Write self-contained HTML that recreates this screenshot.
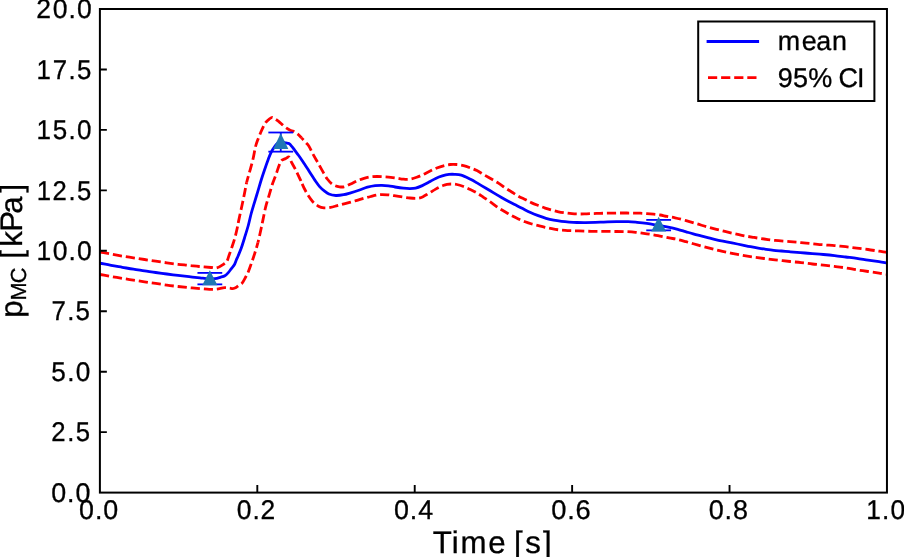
<!DOCTYPE html><html><head><meta charset="utf-8"><style>html,body{margin:0;padding:0;background:#fff;width:904px;height:557px;overflow:hidden}svg{display:block;will-change:transform}text{font-family:"Liberation Sans", sans-serif;fill:#000;stroke:#000;stroke-width:0.3px;text-rendering:geometricPrecision}</style></head><body>
<svg width="904" height="557" viewBox="0 0 904 557">
<rect width="904" height="557" fill="#fff"/>
<defs><clipPath id="ax"><rect x="99.9" y="9.0" width="787.0500000000001" height="483.6"/></clipPath></defs>
<g clip-path="url(#ax)" fill="none" stroke-linejoin="round">
<path d="M100.00,263.20 C103.70,263.93 107.39,264.72 111.10,265.40 C114.82,266.08 118.58,266.67 122.30,267.30 C126.01,267.93 129.70,268.62 133.40,269.20 C137.10,269.78 140.79,270.25 144.50,270.80 C148.23,271.35 151.97,271.97 155.70,272.50 C159.41,273.03 163.09,273.52 166.80,274.00 C170.52,274.48 174.27,274.95 178.00,275.40 C181.71,275.85 185.42,276.28 189.10,276.70 C192.75,277.11 196.54,277.54 200.00,277.90 C203.14,278.23 206.30,278.69 209.00,278.80 C211.20,278.89 213.08,278.97 215.00,278.70 C216.84,278.45 218.61,277.82 220.30,277.30 C221.90,276.81 223.55,276.50 224.90,275.70 C226.21,274.92 227.22,273.77 228.30,272.60 C229.47,271.33 230.56,269.64 231.60,268.30 C232.51,267.12 233.46,266.25 234.20,265.00 C235.02,263.62 235.53,261.86 236.20,260.30 C236.86,258.76 237.48,257.42 238.20,255.70 C239.11,253.53 240.23,250.99 241.20,248.30 C242.33,245.17 243.37,241.64 244.50,238.00 C245.76,233.92 247.26,229.22 248.40,225.00 C249.47,221.06 250.18,217.30 251.20,213.50 C252.21,209.73 253.38,206.02 254.50,202.30 C255.62,198.59 256.78,194.91 257.90,191.20 C259.02,187.48 260.07,183.62 261.20,180.00 C262.27,176.56 263.34,173.39 264.50,170.00 C265.71,166.46 267.10,162.35 268.30,159.20 C269.24,156.72 270.07,154.50 271.00,152.60 C271.75,151.07 272.43,149.94 273.30,148.60 C274.24,147.14 275.32,145.44 276.50,144.20 C277.57,143.08 278.81,141.69 280.00,141.40 C280.98,141.16 282.02,141.75 283.00,142.00 C283.96,142.25 284.84,142.64 285.80,142.90 C286.80,143.17 287.92,143.06 288.90,143.60 C290.08,144.25 291.26,145.81 292.20,146.90 C293.02,147.84 293.53,148.68 294.30,149.70 C295.23,150.94 296.36,152.40 297.40,153.80 C298.46,155.24 299.51,156.63 300.60,158.20 C301.81,159.94 303.06,161.93 304.30,163.80 C305.56,165.69 306.85,167.56 308.10,169.50 C309.38,171.49 310.69,173.69 311.90,175.60 C312.98,177.30 313.83,178.72 315.00,180.40 C316.35,182.36 317.97,184.79 319.60,186.60 C321.08,188.24 322.69,189.64 324.30,190.90 C325.80,192.08 327.12,193.24 328.90,194.00 C330.92,194.86 333.49,195.37 335.90,195.50 C338.42,195.64 341.19,195.17 343.70,194.70 C346.12,194.25 348.23,193.52 350.70,192.80 C353.50,191.98 356.74,190.96 359.60,190.00 C362.30,189.09 364.77,187.94 367.40,187.20 C369.97,186.48 372.69,185.91 375.20,185.60 C377.51,185.31 379.68,185.27 381.90,185.30 C384.11,185.33 386.32,185.52 388.50,185.80 C390.68,186.08 392.69,186.62 395.00,187.00 C397.62,187.43 400.76,187.93 403.40,188.20 C405.73,188.44 407.89,188.63 410.00,188.60 C411.94,188.57 413.68,188.54 415.60,188.10 C417.77,187.61 420.10,186.58 422.30,185.60 C424.57,184.59 426.77,183.30 429.00,182.10 C431.24,180.90 433.44,179.45 435.70,178.40 C437.87,177.39 440.07,176.57 442.30,175.90 C444.50,175.24 446.85,174.66 449.00,174.40 C450.94,174.17 452.65,174.20 454.60,174.30 C456.74,174.41 458.94,174.44 461.30,175.10 C464.18,175.91 467.60,177.83 470.50,179.30 C473.21,180.67 475.63,182.13 478.20,183.60 C480.80,185.09 483.41,186.65 486.00,188.20 C488.58,189.75 491.12,191.35 493.70,192.90 C496.29,194.45 498.90,196.01 501.50,197.50 C504.07,198.97 506.61,200.43 509.20,201.80 C511.78,203.16 514.61,204.49 517.00,205.70 C519.05,206.73 520.65,207.57 522.70,208.60 C525.09,209.81 527.88,211.32 530.50,212.50 C533.05,213.65 535.61,214.63 538.20,215.60 C540.78,216.57 543.39,217.53 546.00,218.30 C548.56,219.06 551.11,219.68 553.70,220.20 C556.28,220.72 558.90,221.08 561.50,221.40 C564.07,221.71 566.62,221.92 569.20,222.10 C571.79,222.28 574.34,222.42 577.00,222.50 C579.77,222.59 582.24,222.62 585.50,222.60 C589.90,222.57 595.83,222.37 601.00,222.20 C606.17,222.03 611.71,221.69 616.50,221.60 C620.65,221.52 624.49,221.46 628.10,221.60 C631.27,221.72 633.96,222.01 637.00,222.30 C640.19,222.60 643.43,222.93 646.80,223.40 C650.42,223.91 654.48,224.69 658.00,225.30 C661.14,225.85 663.80,226.28 666.90,226.90 C670.33,227.59 674.41,228.45 677.70,229.30 C680.52,230.03 682.91,230.83 685.50,231.60 C688.08,232.36 690.62,233.18 693.20,233.90 C695.78,234.62 698.41,235.25 701.00,235.90 C703.57,236.55 706.13,237.15 708.70,237.80 C711.29,238.45 713.90,239.21 716.50,239.80 C719.07,240.38 721.63,240.79 724.20,241.30 C726.79,241.82 729.20,242.32 732.00,242.90 C735.29,243.57 739.41,244.43 742.70,245.10 C745.50,245.68 747.91,246.20 750.50,246.70 C753.07,247.20 755.62,247.67 758.20,248.10 C760.79,248.53 763.41,248.93 766.00,249.30 C768.57,249.66 771.12,250.02 773.70,250.30 C776.29,250.58 778.91,250.77 781.50,251.00 C784.08,251.23 786.62,251.48 789.20,251.70 C791.79,251.92 794.38,252.08 797.00,252.30 C799.65,252.52 802.39,252.78 805.00,253.00 C807.49,253.21 809.61,253.38 812.30,253.60 C815.61,253.87 819.70,254.17 823.40,254.50 C827.10,254.83 830.79,255.18 834.50,255.60 C838.23,256.02 841.98,256.53 845.70,257.00 C849.41,257.47 853.09,257.89 856.80,258.40 C860.53,258.92 864.27,259.55 868.00,260.10 C871.71,260.65 875.72,261.18 879.10,261.70 C881.96,262.14 884.99,262.67 887.00,263.00 C888.24,263.20 889.00,263.33 890.00,263.50" stroke="#0000ff" stroke-width="2.8" stroke-linecap="square"/>
<path d="M100.00,252.00 C103.70,252.70 107.39,253.42 111.10,254.10 C114.82,254.78 118.57,255.48 122.30,256.10 C126.00,256.71 129.70,257.23 133.40,257.80 C137.10,258.37 140.79,258.93 144.50,259.50 C148.22,260.07 151.97,260.65 155.70,261.20 C159.41,261.75 163.09,262.28 166.80,262.80 C170.52,263.32 174.27,263.87 178.00,264.30 C181.70,264.73 185.50,265.02 189.10,265.40 C192.52,265.76 195.61,266.16 199.10,266.50 C202.92,266.87 207.89,267.25 211.10,267.50 C213.25,267.67 214.65,268.28 216.50,267.90 C218.72,267.44 221.57,265.53 223.40,264.30 C224.76,263.38 225.81,262.75 226.70,261.50 C227.78,259.97 228.18,257.74 229.00,255.50 C230.02,252.70 231.27,249.13 232.30,246.00 C233.30,242.97 234.27,240.03 235.10,237.00 C235.93,233.96 236.66,230.74 237.30,227.80 C237.88,225.13 238.20,223.01 238.80,220.10 C239.59,216.26 240.75,211.24 241.70,206.80 C242.65,202.34 243.63,197.66 244.50,193.40 C245.29,189.53 245.85,185.90 246.70,182.30" stroke="#ff0000" stroke-width="2.8" stroke-dasharray="9.2 3.9" stroke-dashoffset="0.00"/>
<path d="M246.70,182.30 C247.52,178.84 248.53,175.76 249.50,172.20 C250.59,168.21 251.88,163.81 252.90,159.50 C253.95,155.08 254.74,149.58 255.70,146.00 C256.35,143.58 256.96,142.03 257.70,140.00 C258.48,137.87 259.41,135.63 260.30,133.50 C261.18,131.40 262.06,129.20 263.00,127.30 C263.84,125.60 264.56,123.96 265.60,122.60 C266.58,121.32 267.82,120.21 269.00,119.30 C270.06,118.48 271.20,117.30 272.30,117.30 C273.40,117.30 274.51,118.59 275.60,119.30 C276.71,120.02 277.83,120.74 278.90,121.60 C280.03,122.50 281.03,123.59 282.20,124.60 C283.46,125.69 284.83,126.93 286.20,127.90 C287.50,128.82 288.90,129.72 290.20,130.30 C291.32,130.80 292.38,130.78 293.50,131.30 C294.81,131.91 296.22,132.86 297.50,133.90 C298.90,135.03 300.18,136.53 301.50,137.90" stroke="#ff0000" stroke-width="2.8" stroke-dasharray="9.2 3.9" stroke-dashoffset="212.42"/>
<path d="M301.50,137.90 C302.85,139.30 304.24,140.80 305.50,142.20 C306.66,143.50 307.71,144.39 308.80,146.00 C310.34,148.28 311.85,152.06 313.40,154.90 C314.86,157.58 316.33,160.01 317.80,162.60 C319.30,165.24 320.74,167.91 322.30,170.60 C323.91,173.38 325.42,176.58 327.30,179.00 C328.99,181.18 330.79,183.29 332.90,184.60 C334.88,185.82 337.49,186.47 339.50,186.80 C341.12,187.06 342.39,187.12 344.00,186.80 C346.05,186.39 348.48,185.01 350.70,184.00 C352.95,182.98 355.15,181.64 357.40,180.70 C359.58,179.79 361.78,179.05 364.00,178.40 C366.21,177.75 368.45,177.12 370.70,176.80 C372.92,176.49 375.17,176.50 377.40,176.50 C379.63,176.50 381.87,176.67 384.10,176.80 C386.33,176.93 388.64,177.07 390.80,177.30 C392.83,177.51 394.67,177.80 396.70,178.10 C398.86,178.42 401.17,179.02 403.40,179.20 C405.60,179.38 407.81,179.50 410.00,179.20 C412.25,178.89 414.49,178.09 416.70,177.30 C418.96,176.49 421.18,175.44 423.40,174.40 C425.65,173.34 427.85,172.07 430.10,171.00 C432.32,169.94 434.54,168.87 436.80,168.00 C439.01,167.14 441.26,166.39 443.50,165.80 C445.69,165.23 447.88,164.72 450.10,164.50 C452.31,164.28 454.57,164.32 456.80,164.50 C459.04,164.68 461.29,165.06 463.50,165.60 C465.75,166.15 467.98,166.97 470.20,167.80 C472.45,168.64 474.71,169.50 476.90,170.60 C479.15,171.73 481.23,173.18 483.50,174.50 C485.92,175.91 488.51,177.36 491.00,178.80 C493.48,180.23 496.04,181.58 498.40,183.10 C500.70,184.58 502.77,186.31 505.00,187.80 C507.20,189.27 509.47,190.60 511.70,192.00 C513.93,193.40 516.13,194.94 518.40,196.20 C520.60,197.43 522.87,198.39 525.10,199.50 C527.34,200.62 529.54,201.88 531.80,202.90 C534.01,203.90 536.27,204.73 538.50,205.60 C540.70,206.46 542.88,207.35 545.10,208.10 C547.31,208.85 549.56,209.48 551.80,210.10 C554.03,210.71 556.26,211.33 558.50,211.80 C560.72,212.26 562.96,212.58 565.20,212.90 C567.43,213.22 569.67,213.52 571.90,213.70 C574.10,213.88 576.18,213.98 578.50,214.00 C581.08,214.03 584.10,213.87 586.70,213.80 C589.05,213.74 591.18,213.68 593.40,213.60 C595.61,213.52 597.79,213.37 600.00,213.30 C602.22,213.23 604.47,213.23 606.70,213.20 C608.93,213.17 611.17,213.13 613.40,213.10 C615.63,213.07 617.87,213.02 620.10,213.00 C622.33,212.98 624.57,212.98 626.80,213.00 C629.03,213.02 631.28,213.07 633.50,213.10 C635.71,213.13 637.89,213.12 640.10,213.20 C642.33,213.28 644.57,213.43 646.80,213.60 C649.03,213.77 651.27,213.97 653.50,214.20 C655.74,214.43 657.97,214.64 660.20,215.00 C662.44,215.37 664.56,215.95 666.90,216.40 C669.47,216.89 672.10,217.18 675.00,217.80 C678.42,218.53 682.40,219.59 686.10,220.60 C689.84,221.62 693.58,222.78 697.30,223.90 C701.01,225.02 704.69,226.26 708.40,227.30 C712.09,228.33 715.79,229.18 719.50,230.10 C723.22,231.02 726.97,231.93 730.70,232.80 C734.41,233.66 738.08,234.55 741.80,235.30 C745.52,236.05 749.27,236.68 753.00,237.30 C756.70,237.91 760.41,238.48 764.10,239.00 C767.75,239.51 771.07,239.98 775.00,240.40 C779.60,240.89 785.38,241.31 790.00,241.70 C793.98,242.03 797.39,242.27 801.10,242.60 C804.83,242.93 808.58,243.33 812.30,243.70 C816.01,244.07 819.70,244.48 823.40,244.80 C827.10,245.12 830.79,245.28 834.50,245.60 C838.23,245.92 841.98,246.28 845.70,246.70 C849.41,247.12 853.09,247.63 856.80,248.10 C860.52,248.57 864.28,248.98 868.00,249.50 C871.71,250.02 875.71,250.70 879.10,251.20 C881.96,251.62 884.99,251.99 887.00,252.30 C888.24,252.49 889.00,252.63 890.00,252.80" stroke="#ff0000" stroke-width="2.8" stroke-dasharray="9.2 3.9" stroke-dashoffset="320.65"/>
<path d="M100.00,274.50 C103.70,275.17 107.39,275.85 111.10,276.50 C114.82,277.15 118.57,277.80 122.30,278.40 C126.01,279.00 129.70,279.53 133.40,280.10 C137.10,280.67 140.79,281.25 144.50,281.80 C148.22,282.35 151.98,282.85 155.70,283.40 C159.41,283.95 163.09,284.58 166.80,285.10 C170.52,285.62 174.27,286.07 178.00,286.50 C181.71,286.93 185.41,287.35 189.10,287.70 C192.75,288.05 196.50,288.31 200.00,288.60 C203.25,288.87 206.46,289.32 209.40,289.40 C211.98,289.47 214.22,289.46 216.70,289.20 C219.32,288.92 222.33,287.80 224.70,287.70 C226.58,287.62 228.34,288.03 229.80,288.20 C230.90,288.33 231.71,288.69 232.70,288.60 C233.78,288.50 235.03,288.03 236.00,287.50 C236.91,287.01 237.52,286.19 238.40,285.60 C239.37,284.95 240.58,284.79 241.60,283.80 C243.11,282.33 244.66,278.82 245.80,276.80 C246.65,275.29 247.18,274.42 247.90,272.80 C248.95,270.45 250.11,266.97 251.20,263.90 C252.35,260.65 253.50,257.26 254.60,253.80 C255.74,250.20 256.86,246.66 257.90,242.70" stroke="#ff0000" stroke-width="2.8" stroke-dasharray="9.2 3.9" stroke-dashoffset="0.00"/>
<path d="M257.90,242.70 C259.08,238.21 260.29,232.34 261.20,228.20 C261.88,225.11 262.26,223.13 262.90,220.10 C263.72,216.21 264.64,211.02 265.70,206.80 C266.69,202.89 267.90,199.32 269.00,195.60 C270.10,191.89 271.13,188.00 272.30,184.50 C273.37,181.30 274.66,178.30 275.70,175.40 C276.64,172.76 277.43,170.15 278.30,167.80 C279.07,165.73 279.84,163.37 280.60,162.00 C281.07,161.16 281.33,160.63 282.00,160.10 C282.85,159.43 284.34,159.12 285.50,158.60 C286.67,158.08 288.07,156.66 289.00,157.00 C290.10,157.40 290.39,160.11 291.30,161.90 C292.44,164.15 293.98,166.61 295.40,169.40 C297.15,172.82 299.30,177.55 300.90,181.00" stroke="#ff0000" stroke-width="2.8" stroke-dasharray="9.2 3.9" stroke-dashoffset="189.59"/>
<path d="M300.90,181.00 C302.18,183.77 303.06,186.04 304.30,188.50 C305.55,190.98 306.93,193.54 308.40,195.80 C309.78,197.92 311.12,199.96 312.80,201.70 C314.46,203.42 316.42,205.18 318.40,206.20 C320.18,207.12 322.04,207.60 324.00,207.80 C326.09,208.01 328.41,207.66 330.60,207.30 C332.84,206.93 334.98,206.19 337.30,205.60 C339.80,204.96 342.42,204.31 345.10,203.60 C347.97,202.84 351.14,202.01 354.00,201.20 C356.69,200.44 359.11,199.66 361.80,198.90 C364.66,198.09 367.72,197.20 370.70,196.50 C373.66,195.80 376.72,194.97 379.60,194.70 C382.27,194.45 384.90,194.62 387.40,194.80 C389.72,194.97 391.69,195.36 394.10,195.70 C396.95,196.11 400.56,196.69 403.40,197.10 C405.79,197.44 407.85,197.80 410.00,198.00 C412.04,198.19 414.22,198.35 416.00,198.30 C417.44,198.26 418.63,198.22 419.90,197.90 C421.20,197.57 422.42,196.94 423.70,196.30 C425.11,195.60 426.64,194.60 428.00,193.80 C429.23,193.07 430.31,192.42 431.50,191.70 C432.74,190.95 434.02,190.15 435.30,189.40 C436.59,188.65 437.88,187.86 439.20,187.20 C440.48,186.56 441.78,185.97 443.10,185.50 C444.38,185.04 445.63,184.65 447.00,184.40 C448.46,184.13 450.02,183.99 451.60,184.00 C453.28,184.01 454.98,184.14 456.80,184.50 C458.91,184.91 461.29,185.68 463.50,186.50 C465.76,187.34 467.98,188.44 470.20,189.50 C472.45,190.57 474.71,191.62 476.90,192.90 C479.15,194.21 481.19,195.74 483.50,197.30 C486.09,199.05 489.12,201.06 491.70,202.90 C494.06,204.59 496.13,206.39 498.40,207.90 C500.57,209.34 502.79,210.50 505.00,211.80 C507.22,213.10 509.45,214.49 511.70,215.70 C513.91,216.89 516.15,217.98 518.40,219.00 C520.62,220.01 522.85,220.96 525.10,221.80 C527.32,222.63 529.56,223.35 531.80,224.00 C534.02,224.65 536.27,225.15 538.50,225.70 C540.71,226.25 542.89,226.80 545.10,227.30 C547.32,227.80 549.56,228.28 551.80,228.70 C554.03,229.12 556.26,229.52 558.50,229.80 C560.73,230.08 562.96,230.25 565.20,230.40 C567.43,230.55 569.67,230.62 571.90,230.70 C574.11,230.78 575.95,230.82 578.50,230.90 C582.03,231.01 587.02,231.22 591.10,231.30 C594.94,231.38 598.58,231.37 602.30,231.40 C606.01,231.43 609.70,231.47 613.40,231.50 C617.10,231.53 620.79,231.47 624.50,231.60 C628.23,231.73 631.98,231.93 635.70,232.30 C639.41,232.67 643.10,233.25 646.80,233.80 C650.53,234.35 654.28,234.92 658.00,235.60 C661.72,236.28 665.72,237.25 669.10,237.90 C671.92,238.45 674.20,238.71 676.90,239.30 C679.85,239.95 682.89,240.82 686.10,241.70 C689.66,242.67 693.57,243.86 697.30,244.90 C701.00,245.93 704.70,246.93 708.40,247.90 C712.10,248.87 715.78,249.83 719.50,250.70 C723.22,251.57 726.97,252.33 730.70,253.10 C734.41,253.86 738.09,254.63 741.80,255.30 C745.52,255.97 749.27,256.57 753.00,257.10 C756.70,257.63 760.42,258.05 764.10,258.50 C767.75,258.95 771.08,259.34 775.00,259.80 C779.60,260.34 785.37,261.01 790.00,261.50 C793.98,261.92 797.39,262.18 801.10,262.60 C804.83,263.02 808.57,263.58 812.30,264.00 C816.01,264.42 819.70,264.70 823.40,265.10 C827.10,265.50 830.79,265.93 834.50,266.40 C838.23,266.87 841.98,267.33 845.70,267.90 C849.41,268.47 853.09,269.20 856.80,269.80 C860.52,270.40 864.27,270.95 868.00,271.50 C871.71,272.05 875.71,272.60 879.10,273.10 C881.96,273.52 884.99,273.98 887.00,274.30 C888.24,274.50 889.00,274.63 890.00,274.80" stroke="#ff0000" stroke-width="2.8" stroke-dasharray="9.2 3.9" stroke-dashoffset="311.43"/>
</g>
<g>
<line x1="209.85" y1="272.9" x2="209.85" y2="284.35" stroke="#0000ff" stroke-width="1.8"/>
<line x1="197.45" y1="272.9" x2="222.25" y2="272.9" stroke="#0000ff" stroke-width="1.8"/>
<line x1="197.45" y1="284.35" x2="222.25" y2="284.35" stroke="#0000ff" stroke-width="1.8"/>
<path d="M209.85,270.2 L217.45,285.2 L202.25,285.2 Z" fill="#1f77b4"/>
<line x1="280.75" y1="132.5" x2="280.75" y2="151.65" stroke="#0000ff" stroke-width="1.8"/>
<line x1="268.35" y1="132.5" x2="293.15" y2="132.5" stroke="#0000ff" stroke-width="1.8"/>
<line x1="268.35" y1="151.65" x2="293.15" y2="151.65" stroke="#0000ff" stroke-width="1.8"/>
<path d="M280.75,133.3 L288.35,149.0 L273.15,149.0 Z" fill="#1f77b4"/>
<line x1="658.65" y1="219.9" x2="658.65" y2="230.35" stroke="#0000ff" stroke-width="1.8"/>
<line x1="646.25" y1="219.9" x2="671.05" y2="219.9" stroke="#0000ff" stroke-width="1.8"/>
<line x1="646.25" y1="230.35" x2="671.05" y2="230.35" stroke="#0000ff" stroke-width="1.8"/>
<path d="M658.65,216.8 L666.15,231.4 L651.15,231.4 Z" fill="#1f77b4"/>
</g>
<rect x="99.9" y="9.0" width="787.0500000000001" height="483.6" fill="none" stroke="#000" stroke-width="2"/>
<path d="M257.31,492.6v-7.6 M414.72,492.6v-7.6 M572.13,492.6v-7.6 M729.54,492.6v-7.6 M99.9,432.15h6.95 M99.9,371.70h6.95 M99.9,311.25h6.95 M99.9,250.80h6.95 M99.9,190.35h6.95 M99.9,129.90h6.95 M99.9,69.45h6.95" stroke="#000" stroke-width="1.9" fill="none"/>
<text x="51.22 67.22 75.69" y="501.75" font-size="27.10" transform="translate(51.22 0) scale(0.990 1) translate(-51.22 0)">0.0</text>
<text x="51.19 68.08 76.98" y="441.30" font-size="27.10" transform="translate(51.19 0) scale(0.949 1) translate(-51.19 0)">2.5</text>
<text x="51.31 67.73 76.52" y="380.85" font-size="27.10" transform="translate(51.31 0) scale(0.965 1) translate(-51.31 0)">5.0</text>
<text x="51.43 67.94 76.75" y="320.40" font-size="27.10" transform="translate(51.43 0) scale(0.955 1) translate(-51.43 0)">7.5</text>
<text x="36.43 53.11 69.28 77.92" y="259.95" font-size="27.10" transform="translate(36.43 0) scale(0.977 1) translate(-36.43 0)">10.0</text>
<text x="36.66 53.49 70.40 79.33" y="199.50" font-size="27.10" transform="translate(36.66 0) scale(0.947 1) translate(-36.66 0)">12.5</text>
<text x="36.57 53.45 69.95 78.83" y="139.05" font-size="27.10" transform="translate(36.57 0) scale(0.959 1) translate(-36.57 0)">15.0</text>
<text x="36.62 53.68 70.23 79.10" y="78.60" font-size="27.10" transform="translate(36.62 0) scale(0.952 1) translate(-36.62 0)">17.5</text>
<text x="36.21 53.06 69.20 77.82" y="18.15" font-size="27.10" transform="translate(36.21 0) scale(0.979 1) translate(-36.21 0)">20.0</text>
<text x="79.11 95.11 103.58" y="518.55" font-size="27.10" transform="translate(79.11 0) scale(0.990 1) translate(-79.11 0)">0.0</text>
<text x="236.64 252.84 261.16" y="518.55" font-size="27.10" transform="translate(236.64 0) scale(0.975 1) translate(-236.64 0)">0.2</text>
<text x="393.93 409.93 418.40" y="518.55" font-size="27.10" transform="translate(393.93 0) scale(0.990 1) translate(-393.93 0)">0.4</text>
<text x="551.23 567.04 575.32" y="518.55" font-size="27.10" transform="translate(551.23 0) scale(1.006 1) translate(-551.23 0)">0.6</text>
<text x="708.72 724.66 733.07" y="518.55" font-size="27.10" transform="translate(708.72 0) scale(0.995 1) translate(-708.72 0)">0.8</text>
<text x="866.18 882.55 891.26" y="518.55" font-size="27.10" transform="translate(866.18 0) scale(0.971 1) translate(-866.18 0)">1.0</text>
<text x="432.78 451.78 460.54 487.97 505.30 513.78 524.94 542.61" y="552.90" font-size="31.16" transform="translate(432.78 0) scale(1.003 1) translate(-432.78 0)">Time [s]</text>
<text transform="rotate(-90)"><tspan x="-317.87" y="22.00" font-size="31.16">p</tspan><tspan x="-300.38 -283.34" y="26.40" font-size="21.81">MC</tspan><tspan x="-267.37 -258.71 -246.66 -231.73 -213.84 -192.60" y="22.00" font-size="31.16"> [kPa]</tspan></text>
<rect x="698.2" y="21.5" width="176.2" height="79.5" fill="#fff" stroke="#000" stroke-width="2"/>
<line x1="708" y1="41.5" x2="757.7" y2="41.5" stroke="#0000ff" stroke-width="2.8" stroke-linecap="square"/>
<line x1="708" y1="77.6" x2="757.5" y2="77.6" stroke="#ff0000" stroke-width="2.8" stroke-dasharray="9.2 3.9"/>
<text x="777.69 801.83 816.50 832.53" y="50.00" font-size="27.10" transform="translate(777.69 0) scale(0.992 1) translate(-777.69 0)">mean</text>
<text x="777.70 793.12 808.39 832.49 838.58 857.36" y="86.65" font-size="27.10" transform="translate(777.70 0) scale(0.997 1) translate(-777.70 0)">95% CI</text>
</svg></body></html>
